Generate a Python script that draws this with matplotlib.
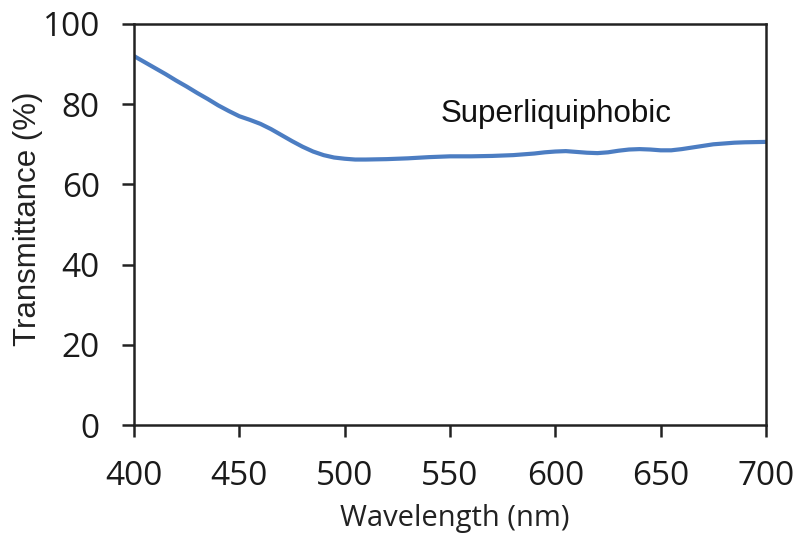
import matplotlib
matplotlib.use("Agg")
import matplotlib.pyplot as plt

# Transmittance spectrum
wavelength = [400, 405, 410, 415, 420, 425, 430, 435, 440, 445, 450, 455, 460,
              465, 470, 475, 480, 485, 490, 495, 500, 505, 510, 520, 530, 540,
              550, 560, 570, 580, 590, 595, 600, 605, 610, 615, 620, 625, 630,
              635, 640, 645, 650, 655, 660, 665, 670, 675, 680, 685, 690, 700]
transmittance = [92.0, 90.5, 89.0, 87.5, 85.9, 84.4, 82.8, 81.3, 79.7, 78.3,
                 77.0, 76.1, 75.1, 73.8, 72.3, 70.8, 69.4, 68.2, 67.3, 66.7,
                 66.4, 66.2, 66.2, 66.3, 66.5, 66.8, 67.0, 67.0, 67.1, 67.3,
                 67.7, 68.0, 68.2, 68.3, 68.1, 67.9, 67.8, 68.0, 68.4, 68.7,
                 68.8, 68.7, 68.5, 68.5, 68.8, 69.2, 69.6, 70.0, 70.2, 70.4,
                 70.5, 70.6]
x_ticks = [400, 450, 500, 550, 600, 650, 700]
y_ticks = [0, 20, 40, 60, 80, 100]
label = "Superliquiphobic"

W, H = 796, 533
fig = plt.figure(figsize=(W / 100, H / 100), dpi=100)
ax = fig.add_axes([134 / W, 1 - 425 / H, (766 - 134) / W, (425 - 24) / H])

ax.plot(wavelength, transmittance, color="#4c7dc2", lw=3.0,
        solid_capstyle="butt", solid_joinstyle="round")

ax.set_xlim(400, 700)
ax.set_ylim(0, 100)
ax.set_xticks(x_ticks)
ax.set_yticks(y_ticks)

tick_font = {"family": "Open Sans", "size": 24}
ax.set_xticklabels([str(t) for t in x_ticks], fontdict=tick_font, color="#1a1a1a")
ax.set_yticklabels([str(t) for t in y_ticks], fontdict=tick_font, color="#1a1a1a")
ax.tick_params(direction="out", length=8.5, width=1.8, color="#222222")
ax.tick_params(axis="x", pad=17)
ax.tick_params(axis="y", pad=16)

for s in ax.spines.values():
    s.set_linewidth(1.8)
    s.set_color("#222222")

ax.text(545.7, 75.6, label, family="Liberation Sans", fontsize=22.5, color="#111111",
        va="baseline", ha="left")

fig.text(28 / W, 1 - 219 / H, "Transmittance (%)", rotation=90,
         family="Liberation Sans", fontsize=22.5, color="#222222",
         ha="center", va="center")
fig.text(455 / W, 1 - 526 / H, "Wavelength (nm)", family="Open Sans", fontsize=21,
         color="#222222", ha="center", va="baseline")

fig.savefig("out.png", dpi=100)
